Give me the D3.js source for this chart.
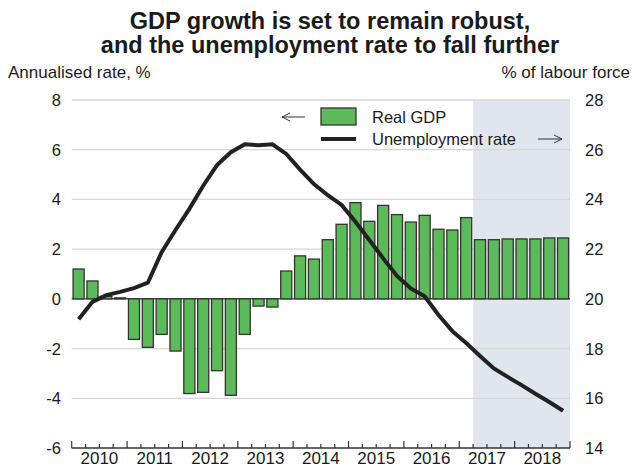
<!DOCTYPE html>
<html><head><meta charset="utf-8">
<script src="https://cdn.jsdelivr.net/npm/d3@7"></script>
<style>
html,body{margin:0;padding:0;background:#fff;}
svg text{font-family:"Liberation Sans",Arial,Helvetica,sans-serif;fill:#1a1a1a;}
</style></head>
<body>
<svg id="chart" width="632" height="468"></svg>
<script>
const years = ["2010","2011","2012","2013","2014","2015","2016","2017","2018"];
const quarters = years.flatMap(y => ["Q1","Q2","Q3","Q4"].map(q => y + q));
const gdp = [1.2, 0.72, 0.1, 0.04, -1.63, -1.95, -1.43, -2.1, -3.81, -3.76, -2.89, -3.88,
  -1.43, -0.29, -0.33, 1.12, 1.73, 1.6, 2.38, 3.0, 3.87, 3.12, 3.76, 3.39,
  3.09, 3.36, 2.8, 2.77, 3.27, 2.38, 2.38, 2.41, 2.41, 2.41, 2.45, 2.45];
const unemployment = [19.18, 19.88, 20.15, 20.28, 20.43, 20.65, 21.88, 22.77, 23.62, 24.55, 25.38, 25.9,
  26.22, 26.18, 26.22, 25.83, 25.2, 24.62, 24.17, 23.78, 23.1, 22.37, 21.63, 20.92,
  20.42, 20.1, 19.35, 18.7, 18.22, 17.7, 17.2, 16.86, 16.53, 16.18, 15.85, 15.5];
const leftTicks = [-6, -4, -2, 0, 2, 4, 6, 8];
const rightTicks = [14, 16, 18, 20, 22, 24, 26, 28];
const forecastStart = "2017Q2";
const titleLines = ["GDP growth is set to remain robust,", "and the unemployment rate to fall further"];

const svg = d3.select("#chart");
const L = 71.7, R = 570, T = 100, B = 448;

const x = d3.scaleBand().domain(quarters).range([L, R]).paddingInner(0.2).paddingOuter(0.1);
const qx = d3.scaleLinear().domain([0, quarters.length]).range([L, R]);
const yL = d3.scaleLinear().domain([-6, 8]).range([B, T]);
const yR = d3.scaleLinear().domain([14, 28]).range([B, T]);

// forecast shading
const fi = quarters.indexOf(forecastStart);
svg.append("rect").attr("x", qx(fi)).attr("y", T).attr("width", qx(quarters.length) - qx(fi))
  .attr("height", B - T).attr("fill", "#e1e6ee");

// gridlines
svg.append("g").selectAll("line").data(leftTicks.filter(d => d !== -6 && d !== 0)).join("line")
  .attr("x1", L).attr("x2", R).attr("y1", d => yL(d)).attr("y2", d => yL(d))
  .attr("stroke", "#d6d6d6").attr("stroke-width", 1.3);

// tick labels
svg.append("g").selectAll("text").data(leftTicks).join("text")
  .attr("x", 61).attr("y", d => yL(d)).attr("dy", "0.36em").attr("text-anchor", "end")
  .attr("font-size", 16.5).text(d => d);
svg.append("g").selectAll("text").data(rightTicks).join("text")
  .attr("x", 585).attr("y", d => yR(d)).attr("dy", "0.36em").attr("text-anchor", "start")
  .attr("font-size", 16.5).text(d => d);

// zero line
svg.append("line").attr("x1", L).attr("x2", R).attr("y1", yL(0)).attr("y2", yL(0))
  .attr("stroke", "#555").attr("stroke-width", 1.5);

// bars
svg.append("g").selectAll("rect").data(gdp).join("rect")
  .attr("x", (d, i) => x(quarters[i]))
  .attr("width", x.bandwidth())
  .attr("y", d => yL(Math.max(0, d)))
  .attr("height", d => Math.abs(yL(d) - yL(0)))
  .attr("fill", "#5cba5a").attr("stroke", "#333").attr("stroke-width", 1.3);

// unemployment line
const line = d3.line().x((d, i) => x(quarters[i]) + x.bandwidth() / 2).y(d => yR(d));
svg.append("path").datum(unemployment).attr("d", line).attr("fill", "none")
  .attr("stroke", "#222").attr("stroke-width", 4).attr("stroke-linejoin", "miter");

// x axis
svg.append("line").attr("x1", L).attr("x2", R).attr("y1", B).attr("y2", B)
  .attr("stroke", "#333").attr("stroke-width", 1.3);
svg.append("g").selectAll("line").data(d3.range(quarters.length + 1)).join("line")
  .attr("x1", d => qx(d)).attr("x2", d => qx(d))
  .attr("y1", B).attr("y2", d => d % 4 === 0 ? B - 7 : B - 4)
  .attr("stroke", "#333").attr("stroke-width", 1.2);
svg.append("g").selectAll("text").data(years).join("text")
  .attr("x", (d, i) => qx(i * 4 + 2)).attr("y", 464).attr("text-anchor", "middle")
  .attr("font-size", 17).text(d => d);

// axis titles
svg.append("text").attr("x", 8).attr("y", 78).attr("font-size", 17).text("Annualised rate, %");
svg.append("text").attr("x", 630).attr("y", 78).attr("text-anchor", "end").attr("font-size", 17).text("% of labour force");

// title
svg.append("g").selectAll("text").data(titleLines).join("text")
  .attr("x", 330).attr("y", (d, i) => 29 + i * 24).attr("text-anchor", "middle")
  .attr("font-size", 23.5).attr("font-weight", "bold").text(d => d);

// legend
const lg = svg.append("g");
lg.append("rect").attr("x", 321).attr("y", 108).attr("width", 35).attr("height", 17)
  .attr("fill", "#5cba5a").attr("stroke", "#333").attr("stroke-width", 1.3);
lg.append("text").attr("x", 372).attr("y", 122.5).attr("font-size", 16.5).text("Real GDP");
lg.append("line").attr("x1", 321).attr("x2", 356).attr("y1", 139).attr("y2", 139)
  .attr("stroke", "#222").attr("stroke-width", 4);
lg.append("text").attr("x", 372).attr("y", 145).attr("font-size", 16.5).text("Unemployment rate");

// arrows
function arrow(x1, x2, y, dir) {
  const tip = dir < 0 ? x1 : x2;
  lg.append("line").attr("x1", x1).attr("x2", x2).attr("y1", y).attr("y2", y).attr("stroke", "#333").attr("stroke-width", 1);
  lg.append("path").attr("d", `M${tip - dir * 8},${y - 4}L${tip},${y}L${tip - dir * 8},${y + 4}`)
    .attr("fill", "none").attr("stroke", "#333").attr("stroke-width", 1);
}
arrow(282, 305, 117, -1);
arrow(538, 562, 139, 1);
</script>
</body></html>
